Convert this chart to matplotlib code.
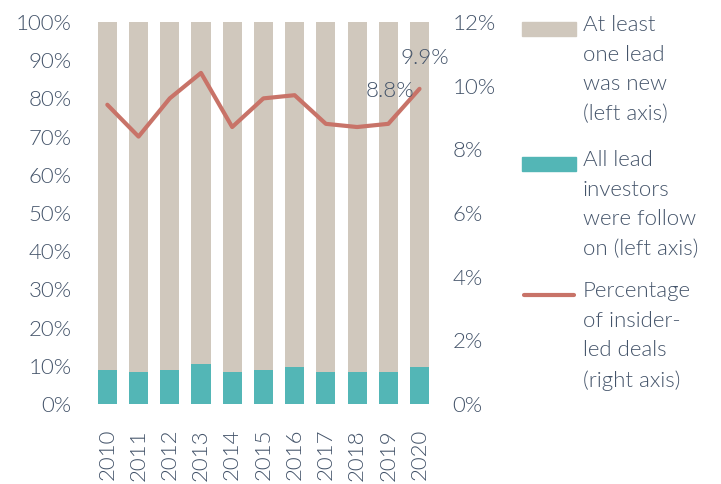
import matplotlib
matplotlib.use("Agg")
import matplotlib.pyplot as plt
from matplotlib.patches import Rectangle
from matplotlib.lines import Line2D
from matplotlib.ticker import FuncFormatter

years = ["2010", "2011", "2012", "2013", "2014", "2015", "2016", "2017", "2018", "2019", "2020"]
follow_on = [8.9, 8.3, 8.9, 10.4, 8.3, 8.9, 9.7, 8.3, 8.3, 8.3, 9.7]
new_lead = [100 - v for v in follow_on]
insider = [9.4, 8.4, 9.6, 10.4, 8.7, 9.6, 9.7, 8.8, 8.7, 8.8, 9.9]
labelled = {9: "8.8%", 10: "9.9%"}

BEIGE = "#D0C8BD"
TEAL = "#53B6B6"
RED = "#C87368"
TXT = "#44546A"

plt.rcParams['font.family'] = ['Lato', 'DejaVu Sans']
plt.rcParams['font.weight'] = 300

fig = plt.figure(figsize=(7.21, 4.84), dpi=100)
ax = fig.add_axes([0.1272, 0.1653, 0.4763, 0.7893])
x = list(range(len(years)))
ax.bar(x, follow_on, width=0.61, color=TEAL, zorder=2)
ax.bar(x, new_lead, width=0.61, bottom=follow_on, color=BEIGE, zorder=2)
ax.set_xlim(-0.5, len(years) - 0.5)
ax.set_ylim(0, 100)
ax.set_yticks(range(0, 101, 10))
ax.yaxis.set_major_formatter(FuncFormatter(lambda v, p: f"{v:.0f}%"))
ax.set_xticks(x)
ax.set_xticklabels(years, rotation=90)
for s in ax.spines.values():
    s.set_visible(False)
ax.tick_params(axis='y', length=0, pad=14.5, labelsize=16, labelcolor=TXT)
ax.tick_params(axis='x', length=0, pad=18, labelsize=16, labelcolor=TXT)

ax2 = ax.twinx()
ax2.plot(x, insider, color=RED, lw=3, zorder=3, solid_capstyle='round')
ax2.set_ylim(0, 12)
ax2.set_yticks(range(0, 13, 2))
ax2.yaxis.set_major_formatter(FuncFormatter(lambda v, p: f"{v:.0f}%"))
for s in ax2.spines.values():
    s.set_visible(False)
ax2.tick_params(axis='y', length=0, pad=12.5, labelsize=16, labelcolor=TXT)
offsets = {9: (1, 24), 10: (4, 22)}
for i, t in labelled.items():
    ax2.annotate(t, (x[i], insider[i]), xytext=offsets[i], textcoords='offset points',
                 ha='center', va='center', fontsize=16, color=TXT, annotation_clip=False)

# legend
W, H = 721, 484
def fx(px):
    return px / W
def fy(py):
    return 1 - py / H

entries = [
    ("patch", BEIGE, 29, "At least\none lead\nwas new\n(left axis)"),
    ("patch", TEAL, 164, "All lead\ninvestors\nwere follow\non (left axis)"),
    ("line", RED, 295, "Percentage\nof insider-\nled deals\n(right axis)"),
]
for kind, col, yc, txt in entries:
    if kind == "patch":
        fig.patches.append(Rectangle((fx(522), fy(yc + 7)), fx(576) - fx(522), 14 / H,
                                     transform=fig.transFigure, color=col))
    else:
        fig.lines.append(Line2D([fx(524), fx(574)], [fy(yc), fy(yc)], transform=fig.transFigure,
                                color=col, lw=3, solid_capstyle='round'))
    fig.text(fx(583), fy(yc - 14), txt, ha='left', va='top', fontsize=16, color=TXT,
             linespacing=1.6)

fig.savefig("out.png", dpi=100)
